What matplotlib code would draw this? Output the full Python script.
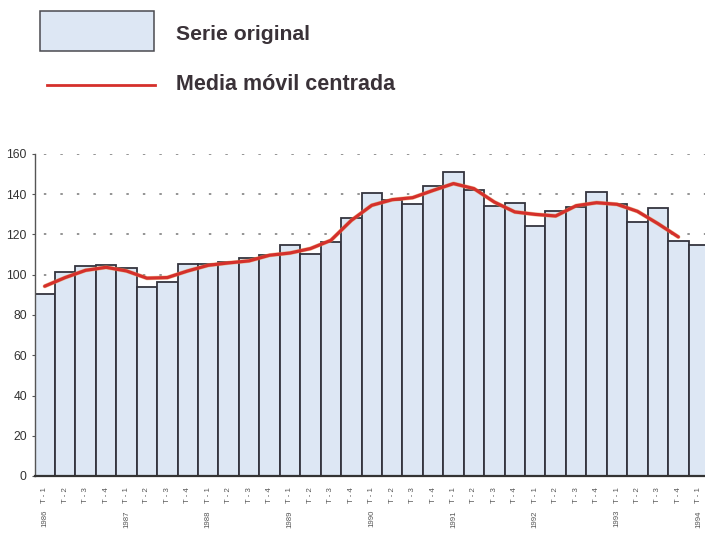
import matplotlib
matplotlib.use("Agg")
import matplotlib.pyplot as plt
from matplotlib.patches import Rectangle
from matplotlib.lines import Line2D
import matplotlib.patheffects as pe
import numpy as np

plt.rcParams['font.family'] = ['Liberation Sans', 'DejaVu Sans']

years = ["1986", "1987", "1988", "1989", "1990", "1991", "1992", "1993", "1994"]
quarters = ["T - 1", "T - 2", "T - 3", "T - 4"]

serie_original = [90.3, 101.4, 104.4, 104.6, 103.6, 94.0, 96.4, 105.1,
                  105.5, 106.4, 108.2, 109.7, 114.8, 110.5, 116.3, 128.0,
                  140.8, 137.0, 135.3, 143.9, 151.0, 141.9, 134.0, 135.6,
                  124.0, 131.7, 133.7, 141.3, 135.0, 126.0, 133.0, 116.8,
                  115.0]
media_movil = [94.3, 98.6, 102.2, 103.7, 101.9, 98.3, 98.6, 101.9,
               104.7, 105.9, 106.9, 109.7, 110.8, 113.0, 117.1, 127.0,
               134.5, 137.3, 138.3, 141.9, 145.3, 142.8, 136.1, 131.2,
               130.0, 129.2, 134.3, 135.8, 135.0, 131.5, 125.4, 118.8]
y_ticks = [0, 20, 40, 60, 80, 100, 120, 140, 160]

n = len(serie_original)
x = np.arange(n)
xlabels = [quarters[i % 4] for i in range(n)]

W, H = 705, 538
fig = plt.figure(figsize=(W / 100, H / 100), dpi=100)
fig.patch.set_facecolor("white")

ax_left, ax_right = 34.5, 709.0
ax_bottom, ax_top = 476.0, 154.0
ax = fig.add_axes([ax_left / W, (H - ax_bottom) / H,
                   (ax_right - ax_left) / W, (ax_bottom - ax_top) / H])

bar_fill = "#dde7f4"
bar_edge = "#34343e"
red = "#d5302b"
text_col = "#3a3238"

ax.bar(x, serie_original, width=1.0, color=bar_fill, edgecolor=bar_edge,
       linewidth=1.3, zorder=2)
ax.plot(x[:len(media_movil)], media_movil, color=red, lw=2.3, zorder=4,
        solid_joinstyle="round", solid_capstyle="round",
        path_effects=[pe.Stroke(linewidth=3.0, foreground="#e49a5a", alpha=0.6),
                      pe.Normal()])

ax.set_xlim(-0.5, n - 0.5)
ax.set_ylim(0, 160)
ax.set_yticks(y_ticks)
ax.set_yticklabels([str(v) for v in y_ticks], fontsize=8.7, color="#333333")
ax.tick_params(axis="y", length=2.5, width=0.8, color="#555555", pad=3)

ax.set_xticks(x)
ax.set_xticklabels(xlabels, rotation=90, fontsize=5.6, color="#555555")
ax.tick_params(axis="x", length=0, pad=8)

for i, yr in enumerate(years):
    xi = i * 4
    if xi < n:
        ax.text(xi, -34 / (ax_bottom - ax_top), yr, rotation=90,
                transform=ax.get_xaxis_transform(), ha="center", va="top",
                fontsize=5.6, color="#555555")

for v in y_ticks[1:]:
    ax.axhline(v, color="#777777", lw=1.1, linestyle=(5, (1.6, 9.2)), zorder=1)

for s in ["top", "right"]:
    ax.spines[s].set_visible(False)
ax.spines["left"].set_color("#555555")
ax.spines["left"].set_linewidth(1.0)
ax.spines["bottom"].set_color("#333333")
ax.spines["bottom"].set_linewidth(1.6)
ax.spines["bottom"].set_zorder(5)

# Legend (manual, in figure pixel coordinates)
def fx(px):
    return px / W

def fy(py):
    return (H - py) / H

fig.patches.append(Rectangle((fx(40), fy(51)), fx(154) - fx(40), fy(11) - fy(51),
                             transform=fig.transFigure, facecolor=bar_fill,
                             edgecolor="#4a4a50", linewidth=1.1))
fig.lines.append(Line2D([fx(47), fx(155)], [fy(84.5), fy(84.5)],
                        transform=fig.transFigure, color=red, lw=2.0))
fig.text(fx(176), fy(35), "Serie original", fontsize=15.2, fontweight="bold",
         color=text_col, ha="left", va="center")
fig.text(fx(176), fy(84), "Media móvil centrada", fontsize=15.5,
         fontweight="bold", color=text_col, ha="left", va="center")

fig.savefig("out.png", dpi=100)
